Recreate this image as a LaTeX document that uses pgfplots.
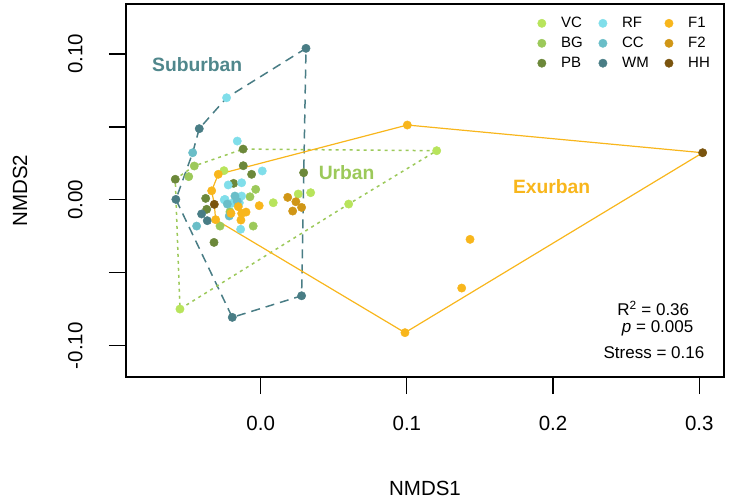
\documentclass[border=0pt]{standalone}
\usepackage{fontspec}
\setmainfont{Liberation Sans}
\usepackage{pgfplots}
\pgfplotsset{compat=1.18}

\definecolor{cVC}{RGB}{184,228,92}
\definecolor{cBG}{RGB}{156,201,90}
\definecolor{cPB}{RGB}{108,136,58}
\definecolor{cRF}{RGB}{128,222,234}
\definecolor{cCC}{RGB}{106,190,200}
\definecolor{cWM}{RGB}{73,125,133}
\definecolor{cF1}{RGB}{248,182,28}
\definecolor{cF2}{RGB}{208,150,22}
\definecolor{cHH}{RGB}{122,84,14}
\definecolor{tSub}{RGB}{80,135,140}

\begin{document}
\begin{tikzpicture}
\begin{axis}[
    scale only axis,
    width=598pt, height=373pt,
    xmin=-0.0921, xmax=0.3169,
    ymin=-0.1215, ymax=0.1343,
    xtick={0,0.1,0.2,0.3},
    xticklabels={0.0,0.1,0.2,0.3},
    ytick={-0.1,-0.05,0,0.05,0.1},
    yticklabels={-0.10,,0.00,,0.10},
    xtick pos=bottom, ytick pos=left,
    tick align=outside,
    major tick length=17pt,
    axis line style={line width=1.4pt},
    tick style={line width=1.2pt, black},
    ticklabel style={font=\fontsize{20.5}{23}\selectfont},
    xticklabel style={yshift=-19pt},
    yticklabel style={xshift=-23pt, rotate=90, anchor=south},
    xlabel={NMDS1}, ylabel={NMDS2},
    every axis x label/.style={at={(rel axis cs:0.5,0)}, yshift=-111pt, anchor=center,
        font=\fontsize{20.5}{23}\selectfont},
    every axis y label/.style={at={(rel axis cs:0,0.5)}, xshift=-106pt, rotate=90, anchor=center,
        font=\fontsize{20.5}{23}\selectfont},
    clip=false,
    legend columns=3,
    transpose legend,
    legend cell align=left,
    legend style={draw=none, fill=none, at={(rel axis cs:0.985,0.9755)}, anchor=north east,
        font=\fontsize{15}{17}\selectfont, row sep=4pt,
        /tikz/every odd column/.append style={column sep=13pt},
        /tikz/every even column/.append style={column sep=14pt}},
    every axis plot/.append style={only marks, mark=*, mark size=4.2pt},
]
% hulls
\addplot[forget plot, no marks, sharp plot, draw=cWM, line width=1.5pt, dash pattern=on 9pt off 6pt] coordinates {
(0.031,0.1039) (-0.0233,0.070) (-0.042,0.0488) (-0.0465,0.0323) (-0.058,0.0003) (-0.0194,-0.0806) (0.028,-0.0658) (0.031,0.1039)};
\addplot[forget plot, no marks, sharp plot, draw=cBG, line width=1.5pt, dash pattern=on 3pt off 4pt] coordinates {
(0.1204,0.0337) (-0.012,0.0348) (-0.0454,0.0232) (-0.0584,0.0141) (-0.0552,-0.0749) (0.0602,-0.0029) (0.1204,0.0337)};
\addplot[forget plot, no marks, sharp plot, draw=cF1, line width=1.2pt] coordinates {
(0.1003,0.0513) (0.3023,0.0323) (0.0987,-0.0911) (-0.0308,-0.0136) (-0.0317,-0.0031) (-0.0335,0.0062) (-0.029,0.0175) (0.1003,0.0513)};
% points
\addplot[mark options={fill=cVC, draw=cVC}] coordinates {
(0.1204,0.0337) (0.0602,-0.0029) (-0.0552,-0.0749) (-0.0251,0.020) (0.0257,0.004) (0.0342,0.0049) (0.0086,-0.002)};
\addlegendentry{VC}
\addplot[mark options={fill=cBG, draw=cBG}] coordinates {
(-0.0454,0.0232) (-0.0492,0.0159) (-0.0034,0.0072) (-0.0073,0.0021) (-0.0278,-0.018) (-0.021,-0.0082) (-0.0051,-0.018)};
\addlegendentry{BG}
\addplot[mark options={fill=cPB, draw=cPB}] coordinates {
(-0.012,0.0348) (-0.0584,0.0141) (0.0294,0.0186) (-0.0119,0.0234) (-0.0062,0.0175) (-0.0185,0.0113) (-0.0376,0.001) (-0.0369,-0.0065) (-0.0319,-0.0292)};
\addlegendentry{PB}
\addplot[mark options={fill=cRF, draw=cRF}] coordinates {
(-0.0233,0.070) (-0.016,0.0403) (0.0011,0.0198) (-0.0222,0.0102) (-0.013,0.0117) (-0.0249,0.0) (-0.013,0.0026) (-0.0198,-0.0024) (-0.0146,-0.002) (-0.0137,-0.0202) (-0.0244,0.0003)};
\addlegendentry{RF}
\addplot[mark options={fill=cCC, draw=cCC}] coordinates {
(-0.0465,0.0323) (-0.0176,0.0026) (-0.0438,-0.018) (-0.0215,-0.0111) (-0.0228,-0.0029) (-0.016,-0.001)};
\addlegendentry{CC}
\addplot[mark options={fill=cWM, draw=cWM}] coordinates {
(0.031,0.1039) (-0.042,0.0488) (-0.058,0.0003) (-0.0194,-0.0806) (0.028,-0.0658) (-0.0404,-0.0097) (-0.0365,-0.0143)};
\addlegendentry{WM}
\addplot[mark options={fill=cF1, draw=cF1}] coordinates {
(0.1003,0.0513) (0.0987,-0.0911) (-0.029,0.0175) (-0.0335,0.0062) (-0.0308,-0.0136) (0.1432,-0.0271) (0.1375,-0.0605) (-0.001,-0.004) (-0.0203,-0.0093) (-0.0153,-0.0047) (-0.01,-0.0084) (-0.0135,-0.0139) (-0.013,-0.0093)};
\addlegendentry{F1}
\addplot[mark options={fill=cF2, draw=cF2}] coordinates {
(0.0185,0.0017) (0.0241,-0.0013) (0.028,-0.0052) (0.0219,-0.0077)};
\addlegendentry{F2}
\addplot[mark options={fill=cHH, draw=cHH}] coordinates {
(0.3023,0.0323) (-0.0317,-0.0031)};
\addlegendentry{HH}
% labels
\node[font=\fontsize{19.3}{22}\selectfont\bfseries, text=tSub] at (axis cs:-0.0434,0.0925) {Suburban};
\node[font=\fontsize{19.3}{22}\selectfont\bfseries, text=cBG] at (axis cs:0.0588,0.0189) {Urban};
\node[font=\fontsize{19.3}{22}\selectfont\bfseries, text=cF1] at (axis cs:0.199,0.009) {Exurban};
\node[font=\fontsize{17}{19}\selectfont] at (axis cs:0.2685,-0.0744) {R\textsuperscript{2} = 0.36};
\node[font=\fontsize{17}{19}\selectfont] at (axis cs:0.2715,-0.0881) {\textit{p} = 0.005};
\node[font=\fontsize{17}{19}\selectfont] at (axis cs:0.269,-0.1049) {Stress = 0.16};
\coordinate (sw) at (rel axis cs:0,0);
\coordinate (ne) at (rel axis cs:1,1);
\end{axis}
\pgfresetboundingbox
\path[use as bounding box] ([shift={(-126pt,-126pt)}]sw) rectangle ([shift={(5pt,4pt)}]ne);
\end{tikzpicture}
\end{document}
